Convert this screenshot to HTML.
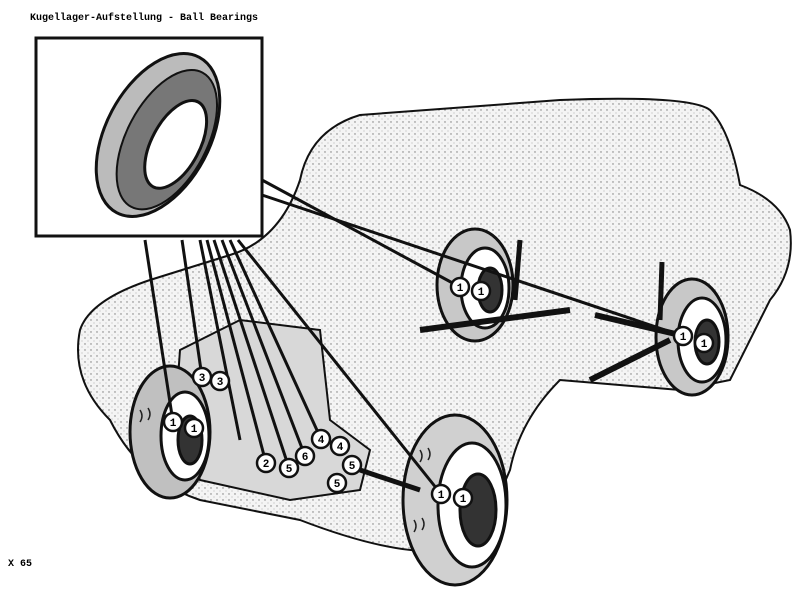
<!DOCTYPE html>
<html><head><style>
html,body{margin:0;padding:0;background:#fff;width:800px;height:592px;overflow:hidden}
text{font-family:"Liberation Mono",monospace}
</style></head><body>
<svg width="800" height="592" viewBox="0 0 800 592" xmlns="http://www.w3.org/2000/svg">
<defs>
<pattern id="st" width="6" height="6" patternUnits="userSpaceOnUse">
<rect width="6" height="6" fill="#f4f4f4"/><circle cx="1" cy="2" r="0.7" fill="#777"/><circle cx="4" cy="5" r="0.5" fill="#999"/>
</pattern>
</defs>
<text x="30" y="20" font-size="10" font-weight="bold">Kugellager-Aufstellung - Ball Bearings</text>
<text x="8" y="566" font-size="10" font-weight="bold">X 65</text>
<path d="M80,330 Q90,300 150,280 L230,255 Q280,240 300,180 Q310,130 360,115 L560,100 Q690,95 710,110 Q730,130 740,185 Q780,200 790,230 Q795,270 770,300 L730,380 L680,390 L560,380 Q520,420 510,470 L480,540 Q430,570 300,520 L200,500 Q140,480 110,420 Q70,380 80,330 Z" fill="url(#st)" stroke="#111" stroke-width="2"/>
<path d="M180,350 L240,320 L320,330 L330,420 L370,450 L360,490 L290,500 L200,480 L175,420 Z" fill="#d8d8d8" stroke="#111" stroke-width="2"/>
<g stroke="#111" stroke-width="3">
<ellipse cx="475" cy="285" rx="38" ry="56" fill="#c8c8c8"/><ellipse cx="485" cy="288" rx="24" ry="40" fill="#fff"/><ellipse cx="490" cy="290" rx="12" ry="22" fill="#333"/>
<ellipse cx="692" cy="337" rx="36" ry="58" fill="#c8c8c8"/><ellipse cx="702" cy="340" rx="24" ry="42" fill="#fff"/><ellipse cx="707" cy="342" rx="12" ry="22" fill="#333"/>
<ellipse cx="170" cy="432" rx="40" ry="66" fill="#c0c0c0"/><ellipse cx="185" cy="436" rx="24" ry="44" fill="#fff"/><ellipse cx="190" cy="440" rx="12" ry="24" fill="#333"/>
<ellipse cx="455" cy="500" rx="52" ry="85" fill="#d0d0d0"/><ellipse cx="472" cy="505" rx="34" ry="62" fill="#fff"/><ellipse cx="478" cy="510" rx="18" ry="36" fill="#333"/>
<line x1="420" y1="330" x2="570" y2="310" stroke-width="6"/>
<line x1="595" y1="315" x2="680" y2="335" stroke-width="6"/>
<line x1="590" y1="380" x2="670" y2="340" stroke-width="6"/>
<line x1="520" y1="240" x2="515" y2="300" stroke-width="5"/>
<line x1="662" y1="262" x2="660" y2="320" stroke-width="5"/>
<line x1="360" y1="470" x2="420" y2="490" stroke-width="5"/>
</g>
<g stroke="#222" stroke-width="1.5" fill="none">
<path d="M420,450 q4,6 0,12 M428,448 q4,6 0,12 M414,520 q4,6 0,12 M422,518 q4,6 0,12 M140,410 q4,6 0,12 M148,408 q4,6 0,12"/>
</g>
<rect x="36" y="38" width="226" height="198" fill="#fff" stroke="#111" stroke-width="3"/>
<g transform="rotate(28 158 135)">
<ellipse cx="158" cy="135" rx="52" ry="88" fill="#bbb" stroke="#111" stroke-width="3"/>
<ellipse cx="168" cy="135" rx="40" ry="76" fill="#777" stroke="#111" stroke-width="2"/>
<ellipse cx="178" cy="135" rx="24" ry="48" fill="#fff" stroke="#111" stroke-width="3"/>
</g>
<g stroke="#111" stroke-width="3">
<line x1="145" y1="240" x2="173" y2="422"/>
<line x1="182" y1="240" x2="202" y2="377"/>
<line x1="200" y1="240" x2="240" y2="440"/>
<line x1="207" y1="240" x2="266" y2="463"/>
<line x1="214" y1="240" x2="289" y2="468"/>
<line x1="222" y1="240" x2="305" y2="456"/>
<line x1="230" y1="240" x2="321" y2="439"/>
<line x1="238" y1="240" x2="441" y2="494"/>
<line x1="262" y1="180" x2="460" y2="287"/>
<line x1="262" y1="195" x2="683" y2="336"/>
</g>
<g font-size="11" font-weight="bold" text-anchor="middle">
<g fill="#fff" stroke="#111" stroke-width="2.5">
<circle cx="202" cy="377" r="9"/><circle cx="220" cy="381" r="9"/>
<circle cx="173" cy="422" r="9"/><circle cx="194" cy="428" r="9"/>
<circle cx="266" cy="463" r="9"/><circle cx="289" cy="468" r="9"/>
<circle cx="305" cy="456" r="9"/><circle cx="321" cy="439" r="9"/>
<circle cx="340" cy="446" r="9"/><circle cx="352" cy="465" r="9"/>
<circle cx="337" cy="483" r="9"/>
<circle cx="460" cy="287" r="9"/><circle cx="481" cy="291" r="9"/>
<circle cx="683" cy="336" r="9"/><circle cx="704" cy="343" r="9"/>
<circle cx="441" cy="494" r="9"/><circle cx="463" cy="498" r="9"/>
</g>
<text x="202" y="381">3</text><text x="220" y="385">3</text>
<text x="173" y="426">1</text><text x="194" y="432">1</text>
<text x="266" y="467">2</text><text x="289" y="472">5</text>
<text x="305" y="460">6</text><text x="321" y="443">4</text>
<text x="340" y="450">4</text><text x="352" y="469">5</text>
<text x="337" y="487">5</text>
<text x="460" y="291">1</text><text x="481" y="295">1</text>
<text x="683" y="340">1</text><text x="704" y="347">1</text>
<text x="441" y="498">1</text><text x="463" y="502">1</text>
</g>
</svg>
</body></html>
